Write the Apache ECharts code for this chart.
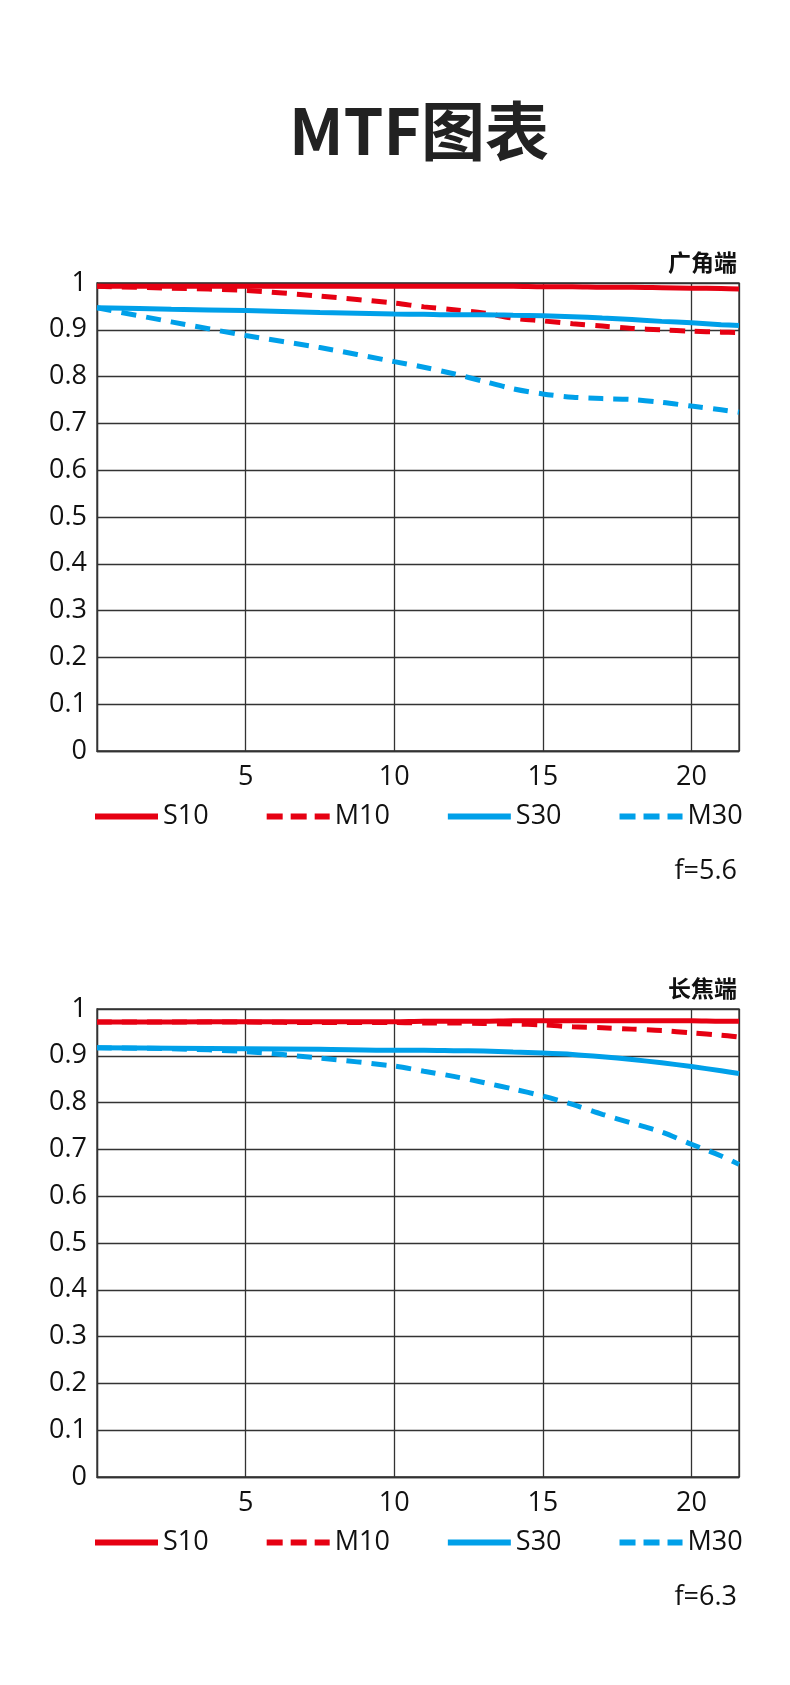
<!DOCTYPE html>
<html lang="zh">
<head>
<meta charset="UTF-8">
<title>MTF图表</title>
<style>
  html, body { margin: 0; padding: 0; background: #fff; }
  #chart { width: 790px; height: 1685px; }
</style>
</head>
<body>
<div id="chart"></div>
<script src="https://cdn.jsdelivr.net/npm/echarts@6/dist/echarts.min.js"></script>
<script>
// image height (mm) where each curve was read
var xs = [0, 2.5, 5, 7.5, 10, 11, 12, 13, 14, 15, 16, 17, 18, 19, 20, 21, 21.6];

// 广角端 f=5.6
var wideS10 = [0.993, 0.993, 0.993, 0.993, 0.993, 0.993, 0.993, 0.993, 0.993, 0.992, 0.992, 0.991, 0.991, 0.990, 0.989, 0.988, 0.987];
var wideM10 = [0.993, 0.989, 0.984, 0.972, 0.957, 0.949, 0.943, 0.936, 0.925, 0.919, 0.913, 0.908, 0.903, 0.900, 0.897, 0.895, 0.894];
var wideS30 = [0.947, 0.944, 0.941, 0.937, 0.934, 0.933, 0.932, 0.932, 0.931, 0.930, 0.928, 0.925, 0.922, 0.918, 0.915, 0.911, 0.909];
var wideM30 = [0.947, 0.917, 0.888, 0.862, 0.832, 0.820, 0.806, 0.790, 0.774, 0.763, 0.756, 0.753, 0.751, 0.745, 0.737, 0.729, 0.724];

// 长焦端 f=6.3
var teleS10 = [0.972, 0.972, 0.973, 0.973, 0.973, 0.974, 0.974, 0.974, 0.975, 0.975, 0.975, 0.975, 0.975, 0.975, 0.975, 0.974, 0.974];
var teleM10 = [0.972, 0.972, 0.972, 0.971, 0.971, 0.970, 0.970, 0.969, 0.968, 0.966, 0.962, 0.960, 0.957, 0.954, 0.949, 0.944, 0.940];
var teleS30 = [0.917, 0.916, 0.915, 0.914, 0.912, 0.912, 0.911, 0.910, 0.908, 0.906, 0.903, 0.898, 0.892, 0.885, 0.877, 0.868, 0.862];
var teleM30 = [0.917, 0.915, 0.909, 0.895, 0.878, 0.867, 0.856, 0.843, 0.829, 0.814, 0.796, 0.775, 0.756, 0.737, 0.711, 0.686, 0.668];

var seriesNames = ['S10', 'M10', 'S30', 'M30'];
var xMax = 21.6;

var RED = '#e60012';
var BLUE = '#00a0e9';
var GRID = '#333';
var FONT = '"Open Sans", "Noto Sans", sans-serif';
var CJK = '"Noto Sans CJK SC", sans-serif';

var chart = echarts.init(document.getElementById('chart'), null, { renderer: 'canvas' });

function pairs(ys) {
  return xs.map(function (x, i) { return [x, ys[i]]; });
}

function line(name, ys, idx, color, dashed) {
  return {
    name: name,
    type: 'line',
    xAxisIndex: idx,
    yAxisIndex: idx,
    data: pairs(ys),
    symbol: 'none',
    smooth: 0.3,
    animation: false,
    z: dashed ? 2 : 3,
    itemStyle: { color: color },
    lineStyle: { color: color, width: 5, type: dashed ? [15, 10] : 'solid' }
  };
}

function xAxis(idx) {
  return {
    type: 'value', gridIndex: idx, min: 0, max: xMax, interval: 5,
    axisLine: { show: true, lineStyle: { color: GRID, width: 1.3 } },
    axisTick: { show: false },
    splitLine: { show: true, lineStyle: { color: GRID, width: 1.3 } },
    axisLabel: { showMinLabel: false, showMaxLabel: false, margin: 13, color: '#111', fontFamily: FONT, fontSize: 27 }
  };
}

function yAxis(idx) {
  return {
    type: 'value', gridIndex: idx, min: 0, max: 1, interval: 0.1,
    axisLine: { show: true, lineStyle: { color: GRID, width: 1.3 } },
    axisTick: { show: false },
    splitLine: { show: true, lineStyle: { color: GRID, width: 1.3 } },
    axisLabel: { margin: 10, color: '#111', fontFamily: FONT, fontSize: 27 }
  };
}

function legend(top) {
  return {
    top: top, left: 92, padding: 0,
    itemWidth: 63, itemHeight: 14, itemGap: 55,
    selectedMode: false,
    // line only, no symbol dot
    itemStyle: { opacity: 0, borderWidth: 0 },
    lineStyle: { width: 6, opacity: 1 },
    textStyle: { color: '#111', fontFamily: FONT, fontSize: 27 },
    data: [
      { name: 'S10' },
      { name: 'M10', lineStyle: { type: [16, 8] } },
      { name: 'S30' },
      { name: 'M30', lineStyle: { type: [16, 8] } }
    ]
  };
}

function label(text, top, size) {
  return {
    text: text, right: 53, top: top, padding: 0,
    textStyle: { color: '#111', fontFamily: size ? CJK : FONT, fontSize: size || 27, fontWeight: size ? 'bold' : 'normal' }
  };
}

var option = {
  backgroundColor: '#fff',
  animation: false,
  title: [
    {
      text: 'MTF图表', left: 289, top: 99, padding: 0,
      textStyle: { color: '#222', fontFamily: CJK, fontSize: 64, fontWeight: 'bold' }
    },
    label('广角端', 251, 23),
    label('f=5.6', 858),
    label('长焦端', 977, 23),
    label('f=6.3', 1584)
  ],
  legend: [legend(803), legend(1529)],
  grid: [
    { left: 97, right: 51, top: 283, height: 468, outerBoundsMode: 'none', show: true, borderColor: GRID, borderWidth: 1.3 },
    { left: 97, right: 51, top: 1009, height: 468, outerBoundsMode: 'none', show: true, borderColor: GRID, borderWidth: 1.3 }
  ],
  xAxis: [xAxis(0), xAxis(1)],
  yAxis: [yAxis(0), yAxis(1)],
  series: [
    line('M30', wideM30, 0, BLUE, true),
    line('S30', wideS30, 0, BLUE, false),
    line('M10', wideM10, 0, RED, true),
    line('S10', wideS10, 0, RED, false),
    line('M30', teleM30, 1, BLUE, true),
    line('S30', teleS30, 1, BLUE, false),
    line('M10', teleM10, 1, RED, true),
    line('S10', teleS10, 1, RED, false)
  ]
};

chart.setOption(option);
</script>
</body>
</html>
